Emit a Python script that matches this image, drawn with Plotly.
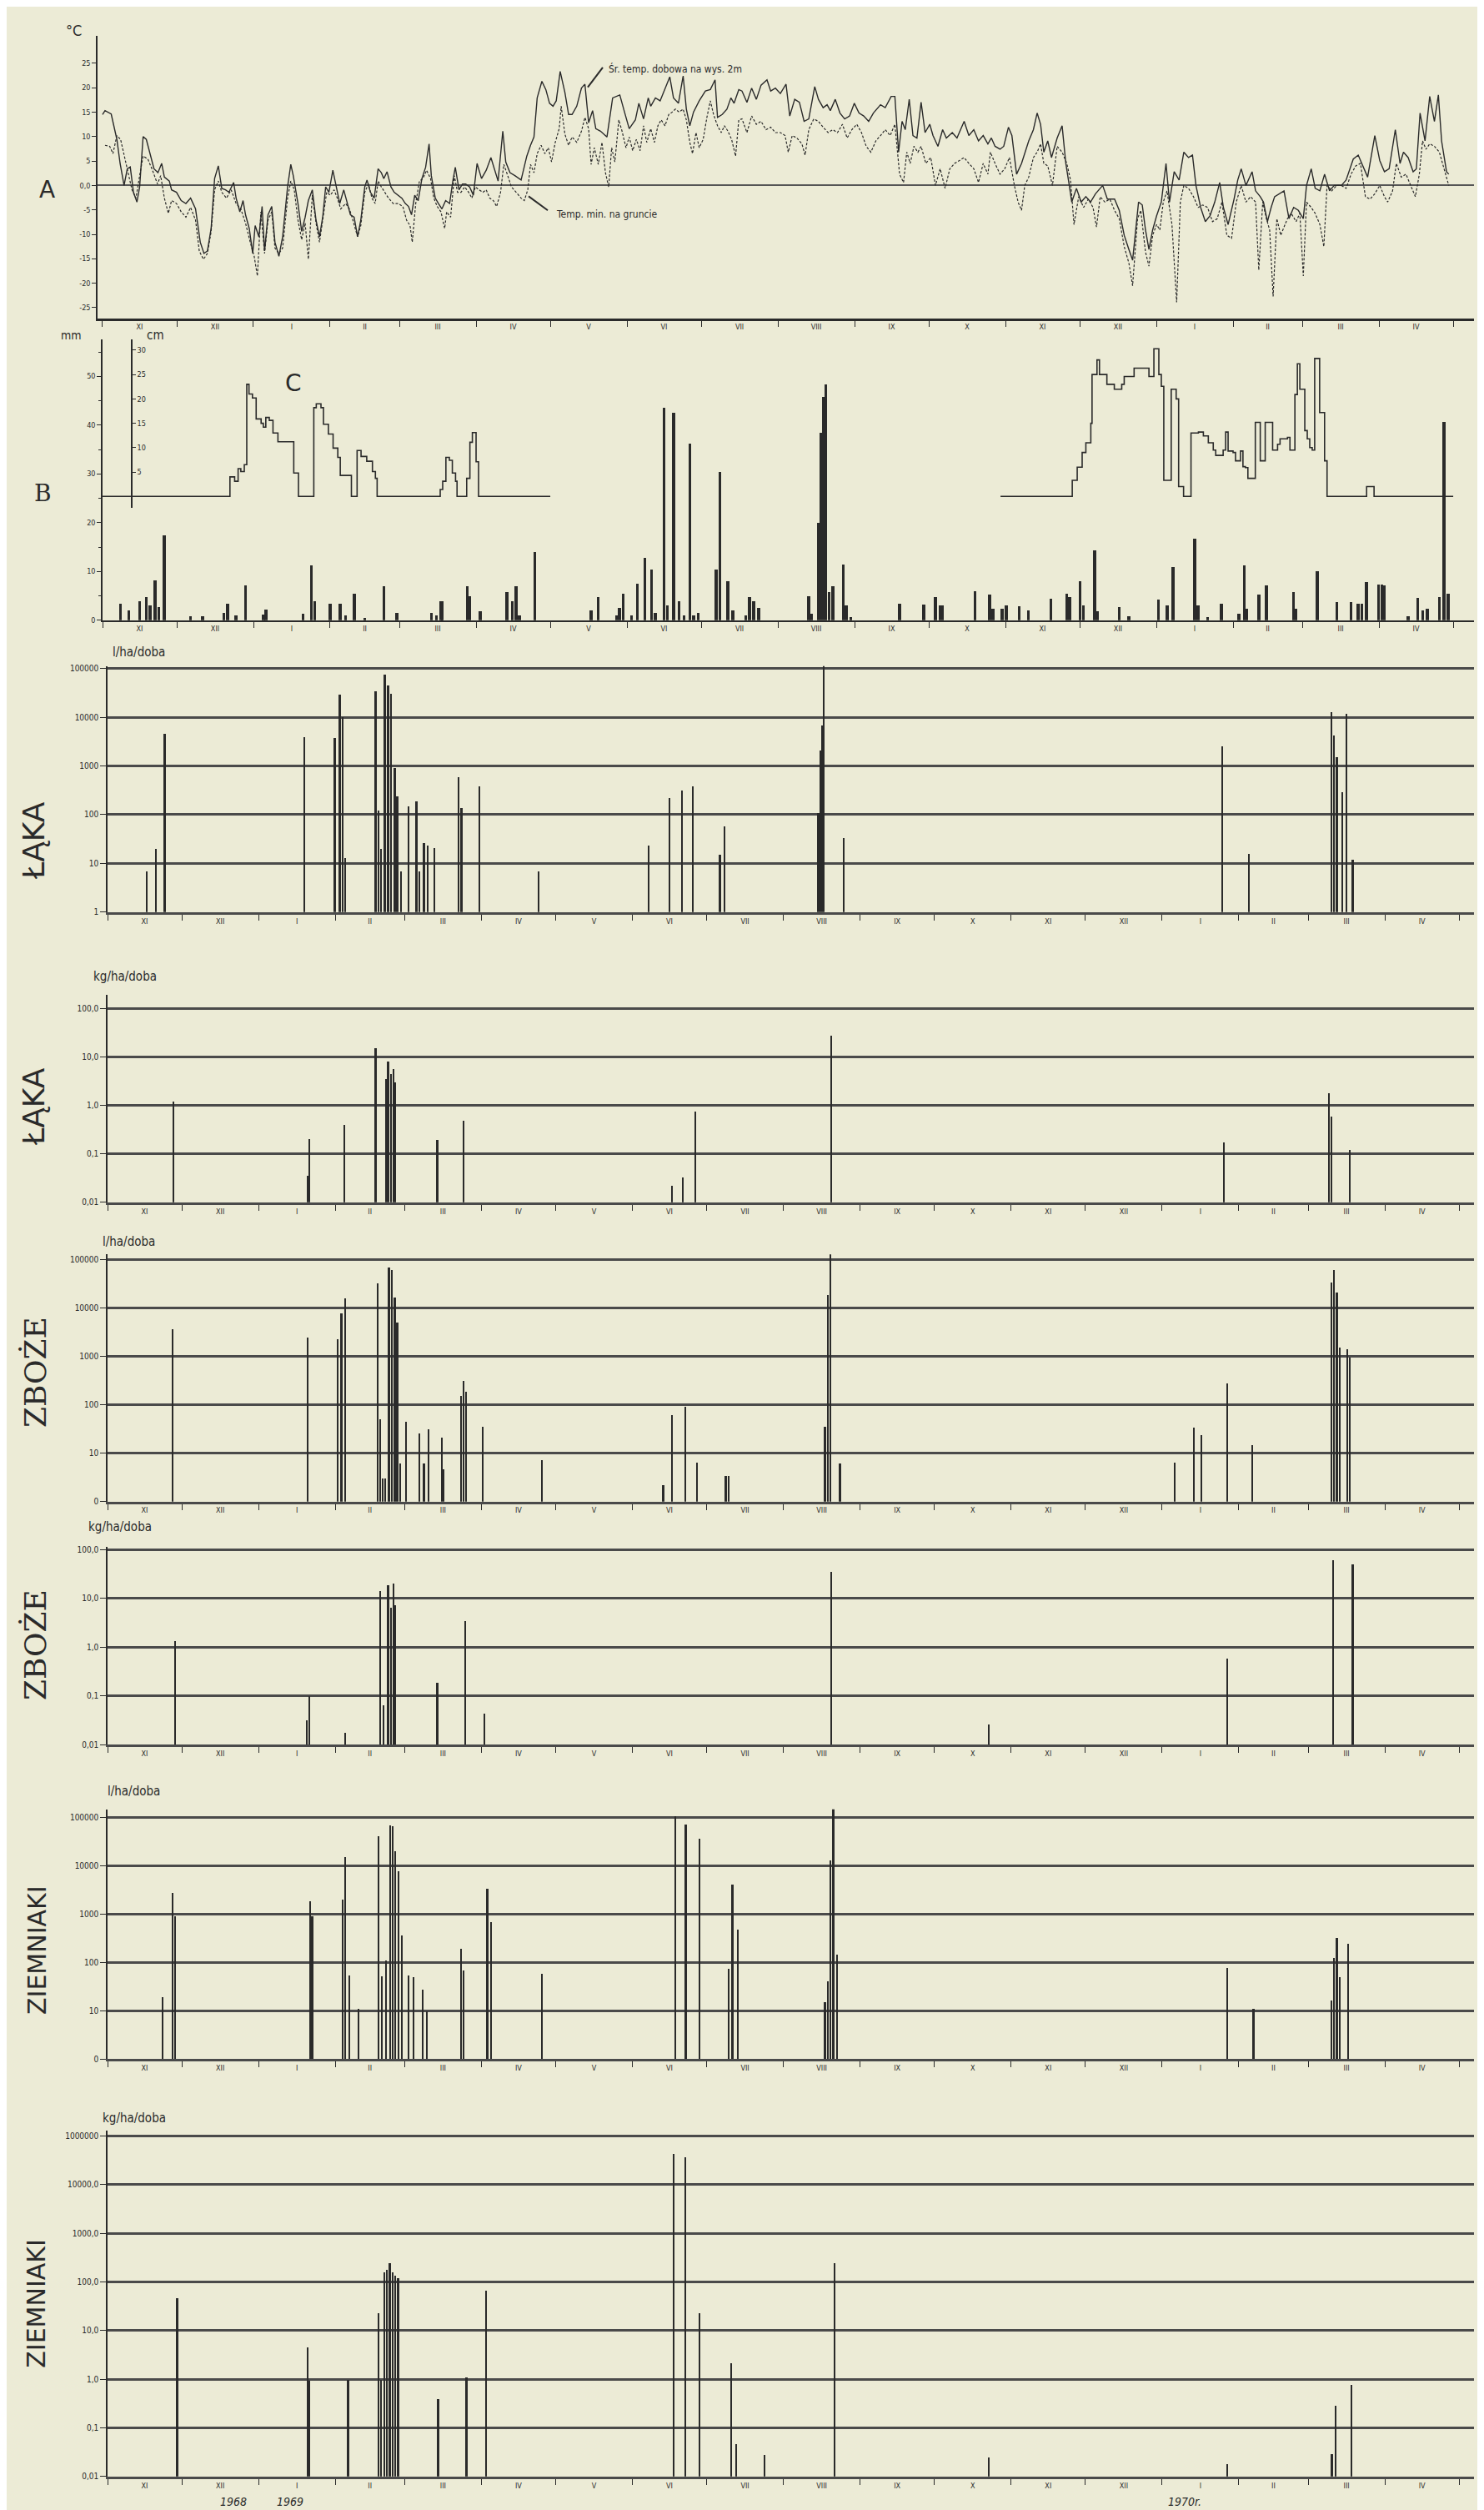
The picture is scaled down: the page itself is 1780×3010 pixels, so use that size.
import plotly.graph_objects as go

W, H = 1780, 3010
BG = '#ecebd6'
INK = '#2a2a2a'
GRID = '#4a4a4a'
FONT = 'DejaVu Sans Condensed, DejaVu Sans, sans-serif'

# ---------------- axis calendar (days since 1968-11-01) ----------------
month_start = [0, 30, 61, 92, 120, 151, 181, 212, 242, 273, 304, 334, 365, 395, 426, 457, 485, 516, 546]
month_roman = ['XI', 'XII', 'I', 'II', 'III', 'IV', 'V', 'VI', 'VII', 'VIII', 'IX', 'X',
               'XI', 'XII', 'I', 'II', 'III', 'IV']

# ---------------- A: temperature ----------------
t_mean_day = [0, 1, 3.5, 5.8, 7.1, 8.7, 10, 11.2, 12.5, 13.9, 15, 16.4, 17.7, 19.3, 20.8, 22.4, 23.9, 25, 27, 27.9,
              29.9, 31.8, 33.7, 35.6, 37.6, 39.5, 41, 42.4, 43.9, 45.3, 46.8, 48.2, 49.7, 51.1, 53, 54, 55.5, 56.8,
              57.8, 59.3, 60.7, 61.7, 63.2, 64.5, 65.5, 66.9, 68.4, 69.7, 71.3, 72.8, 74.8, 76.1, 77.1, 79, 80.5,
              81.9, 83.2, 84.8, 86.3, 87.7, 89, 90.2, 91.5, 93.1, 94.6, 95.9, 97.5, 98.7, 100.2, 101.7, 103.1,
              104.4, 106, 106.9, 108.3, 109.8, 111.4, 112.7, 113.7, 115, 116.6, 117.9, 119.5, 121, 122.4, 123.7,
              124.9, 126.2, 127.6, 129.1, 130.6, 132, 132.9, 134.5, 135.8, 137.2, 138.7, 140.3, 141.6, 142.6,
              144.1, 145.5, 146.8, 148.4, 149.9, 151.4, 153.2, 155.1, 157, 158.6, 159.9, 161.8, 163, 164.7, 166.7,
              169.2, 171.5, 173, 174.4, 175.7, 177.6, 179.2, 180.7, 182.1, 183.4, 185, 186.9, 188.4, 189.8, 191.7,
              193.6, 195, 196.5, 198.1, 199.4, 201.3, 203.9, 206.2, 209.1, 211, 212.9, 215.4, 216.8, 218.7, 220.6,
              221.6, 223.5, 225.4, 227.7, 229.3, 230.8, 232.8, 234.7, 236, 237.4, 238.9, 241.2, 243.7, 245.7,
              247.6, 248.6, 250.5, 252.4, 254, 255.3, 257.2,
              258.5, 260.5, 262.4, 264.3, 266.2, 268.6, 270.1, 272, 274, 276.3, 277.8, 279.8, 281.7, 283.6, 285.5,
              287.9, 289.4, 291.3, 292.9, 294.2, 296.2, 298.1, 300, 302, 303.9, 305.8, 307.7, 309.7, 311.6, 314.5,
              316.4, 318.8, 320.3, 321.8, 323.2, 324.5, 326.1, 327.6, 329.2, 330.9, 332.5, 334.4, 335.7, 337.7,
              339.6, 341.1, 343.5, 345.4, 348.3, 350.2, 352.2, 354.1, 356, 357.9, 359.3, 360.8, 362.8, 364.3,
              366.2, 367.6, 369.5, 371.5, 374.4, 376.3, 377.8, 379.2, 380.5, 382.1, 383.6, 385.9, 387.9, 389.4,
              390.8, 391.8, 393.7, 395.6, 397.5, 399.4, 401.4, 404.3, 406.2, 409.1, 411, 413, 414.9, 416.4, 418.8,
              420.3, 421.6, 423, 424.5, 426.1, 428, 429.9, 431.3, 433.2, 435.2, 437.1, 439, 440.6, 442, 443.9,
              445.8, 447.7, 449.6, 451.6, 453.1, 455, 457.4, 458.9, 460.3, 462.2, 464.7, 466.1, 468, 469.3, 470.9,
              472.4, 473.8, 475.7, 477.6, 479.6, 481.5, 483.4, 485.4, 486.7, 488.6, 490.2, 492.1, 494, 496, 497.9,
              500.8, 502.7, 505.6, 507.6, 509.1, 511.4, 514.3, 516.3, 518.2, 520.1, 522.6, 524.5, 525.9, 527.8,
              529.8, 531.1, 532.6, 534.6, 536.5, 538.4, 540, 541.3, 543.3, 544.2]
t_mean = [14.5, 15.3, 14.6, 9.4, 4.5, 0, 3.4, 3.8, -1.4, -3.4, -0.3, 10, 9.4, 6.5, 3.4, 2.6, 4.5, 1.7, 0.9, -0.9,
          -1.4, -3.1, -3.7, -2.6, -4.8, -11.6, -13.9, -13.4, -8.8, 1.4, 4, -0.6, -0.9, -1.4, 0.6, -2.6, -5.4, -3.1,
          -6, -8.8, -13.9, -8.2, -10.5, -4.3, -13.4, -6, -4.3, -11.6, -14.5, -10.5, -0.3, 4.3, 2, -3.7, -9.4,
          -6.5, -3.1, -0.9, -7.1, -10.5, -6.5, -0.3, -1.4, 3.1, -0.3, -3.7, -0.9, -3.1, -6, -6.5, -10.5,
          -7.1, -0.3, 1.1, -1.4, -2.6, 3.4, 2.6, 1.4, 2.8, -0.3, -1.4, -2, -2.6, -3.7, -4.3,
          -6, -2, -3.1, 1.4, 3.7, 8.5, 2, -2.6, -3.7, -4.8, -3.1, -3.7, 0.9, 3.7,
          -0.9, 0.3, 0.3, -0.3, -2, 4.5, 1.4, 3.1, 5.7, 3.1, 0.9, 11.1, 4.8, 2.6, 2,
          1.1, 6, 8.2, 9.9, 17.9, 21.3, 19.6, 16.8, 16.2, 17.3, 23.3, 19, 14.5, 14.5, 16.2,
          19.9, 20.7, 12.8, 15.3, 11.6, 11.1, 9.9, 17.9, 18.5, 15, 11.6, 13.4, 16.8, 13.6, 17.9,
          16.2, 17.9, 17.3, 20.2, 22.2, 17.9, 16.8, 22.4, 15.6, 12.2, 15, 17.3, 19.3, 19.6,
          21.6, 13.9, 14.5, 15.6, 17.9, 16.8, 19.6,
          19.3, 17, 19.9, 17.6, 20.5, 21.6, 19.3, 19.9, 18.8, 20.7, 14.2, 17.6, 17, 13.1, 13.6,
          20.2, 17.6, 15.9, 16.5, 15.3, 17.6, 14.8, 13.6, 14.2, 16.8, 14.8, 14.2, 13.1, 14.8, 16.5,
          15.9, 18.2, 18.2, 6.8, 13.1, 11.4, 17.6, 10.2, 9.7, 17, 10.8, 12.5, 10.2, 8,
          11.4, 9.7, 10.8, 9.7, 13.1, 10.2, 11.4, 9.1, 10.2, 8.5, 9.7, 8, 7.4, 8,
          11.9, 10.2, 2.3, 4.5, 9.1, 11.4, 14.8, 12.5, 6.8, 9.1, 5.7, 9.7, 12.2, 4.5,
          0, -3.4, -0.6, -3.4, -2.3, -3.4, -1.7, 0, -2.8, -2.8, -5.1, -10.2, -13.1, -15.3, -3.4,
          -4, -9.1, -13.1, -9.1, -6.2, -3.4, 4.5, -3.4, 2.8, 1.1, 6.8, 5.7, 6.2, 0, -4.5,
          -7.4, -6.2, -3.4, 0.6, -4.5, -8, -2.8, 1.1, 3.4, 0, 2.8, -1.1, -2.3, -3.4, -7.4,
          -4.5, -2.3, -1.7, -1.1, -6.8, -4.5, -5.1, -6.8, 0, 3.4, -0.6, -1.1, 2.3, -1.1, 0,
          0, 1.1, 5.4, 6.2, 4.5, 1.7, 10.2, 5.1, 2.8, 3.4, 11.4, 4.5, 6.8, 5.7,
          2.8, 3.4, 14.8, 9.1, 18.2, 13.1, 18.5, 9.1, 2.8, 2.3]

t_min_day = [1, 2.9, 4.2, 5.8, 7.3, 8.7, 10.6, 11.9, 13.5, 15, 16.4, 18.3, 20.2, 22.2, 23.5, 25, 26.6, 27.9, 29.9,
             31.8, 33.7, 35.6, 37.6, 39.1, 40.8, 42.4, 43.9, 45.3, 46.8, 48.2, 50.1, 52, 54, 55.9, 57.8, 59.7,
             61.3, 62.6, 64, 65.5, 66.9, 68.4, 69.7, 71.3, 72.8, 74.8, 76.1, 77.5, 79, 80.5, 81.9, 83.2, 84.8,
             86.3, 87.7, 89, 90.6, 92.1, 93.6, 94.9, 96.3, 98.3, 99.8, 101.2, 103.1, 104.4, 106, 107.5, 108.9,
             110.2, 111.4, 112.7, 114.1, 115.6, 117.5, 119.5, 121.4, 122.9, 124.3, 125.2, 126.6, 128.1, 129.5,
             131, 132.6, 133.9, 135.3, 136.8, 138.3, 139.1, 140.7, 142.2, 143.5, 144.9, 146.4, 148, 149.3, 150.7,
             152.2, 153.8, 155.1, 156.5, 158, 159.3, 160.9, 162.2, 163.8, 165.3, 167.2, 169.2, 170.5, 171.9, 173,
             174.4, 175.7, 177.3, 178.8, 180.2, 181.5, 183, 184.6, 185.4, 186.9, 188.4, 189.8, 191.7, 193.6, 195,
             196.5, 197.5, 198.8, 200.4, 201.9, 203.3, 204.6, 205.8, 207.1, 208.7, 210, 211.6, 212.9, 214.3,
             215.8, 217.3, 218.7, 220, 221.6, 223.1, 224.5, 225.8, 227.4, 228.9, 230.3, 231.6, 233.1, 234.7, 236,
             237.4, 238.5, 239.9, 241.2, 242.8, 244.3, 245.7, 247, 248.6, 250.1, 251.4, 252.8, 254.3, 255.9, 257.2,
             258.5, 260.5, 262.4, 264.3, 266.2, 268.2, 270.1, 272, 274, 275.9, 277.2, 278.8, 280.7, 282.7, 284,
             285.5, 287.5, 289.4, 291.3, 293.3, 295.2, 297.1, 299.1, 301, 302.9, 304.9, 306.8, 308.7, 310.6,
             312.6, 314.5, 316.4, 318.4, 320.3, 322.2, 323.8, 325.1, 326.5, 328, 329.6, 330.9, 332.8, 334.8,
             336.7, 338.6, 340.6, 342.5, 344.4, 346.4, 348.3, 350.2, 352.2, 354.1, 356, 357.9, 358.9, 360.8,
             362.8, 364.7, 366.6, 368.6, 370.1, 371.5, 372.8, 374.4, 376.3, 377.8, 379.2, 380.5, 382.1, 384,
             385.9, 387.9, 389.8, 391.3, 392.7, 394.6, 396.6, 398.5, 400.4, 401.8, 403.3, 405.2, 407.2, 409.1,
             411, 413, 414.9, 416.4, 418.4, 419.7, 421.6, 423, 424.5, 426.1, 427.4, 428.8, 430.3, 432.3, 434.2,
             435.7, 437.1, 439, 441, 442.9, 444.8, 446.7, 448.7, 450.6, 452.5, 454.5, 456.4, 458.3, 460.3, 462.2,
             464.1, 466.1, 467.4, 469, 470.5, 471.8, 473.2, 474.7, 476.3, 477.6, 479, 480.5, 482.5, 484, 485.4,
             486.7, 488.6, 490.2, 492.1, 493.7, 495, 496.9, 498.9, 500.8, 502.7, 504.7, 506.6, 508.5, 510.5,
             512.4, 514.3, 516.3, 518.2, 519.5, 521.5, 523, 525, 526.9, 528.8, 530.7, 532.3, 533.6, 535, 536.5,
             538.4, 540.4, 542.3, 544.2]
t_min = [8.2, 8, 6.5, 10.2, 9.4, 6, 2, -0.9, -2.6, 2, 6, 5.4, 3.1, 0.3, 2, -2.6, -5.7, -3.1, -3.7,
         -5.4, -6.5, -4.5, -7.1, -13.4, -15.1, -13.9, -9.4, -0.9, 0.9, -1.4, -2.6, -0.9, -3.7, -4.8, -7.7, -11.6,
         -14.5, -18.5, -5.4, -13.9, -7.1, -5.4, -12.8, -13.9, -12.8, -2.6, 0.9, -0.9, -7.1, -11.1, -7.7, -15.1, -2,
         -7.7, -11.6, -7.1, -1.4, -2, -0.9, -2.6, -4.8, -3.7, -4.8, -7.1, -10.5, -8.2, -1.4, 0.3, -2.6,
         -3.7, 0.9, -0.3, -1.4, -2.6, -3.7, -3.7, -4.3, -7.1, -8.2, -11.6, -3.7, 0.9, 1.4,
         3.1, 1.4, -2.6, -4.3, -5.4, -8.8, -5.4, -6.5, 2, -1.4, -1.4, -0.3, -1.4, -2.6, -0.3,
         -0.9, -1.4, -0.9, -2.6, -3.1, -4.3, -1.4, 4.3, 2, -0.3, -1.4, -2.6, -3.1, -0.9, 4.3,
         2.6, 6.5, 8.2, 6.5, 7.7, 4.8, 8.8, 11.6, 16.2, 10.5, 8.2, 9.9, 8.8, 11.1, 13.9,
         11.6, 4.3, 7.7, 4.3, 8.8, 2.6, -0.3, 7.7, 4.8, 13.4, 11.1, 7.7, 9.9, 7.1,
         9.4, 7.1, 12.2, 8.8, 11.6, 8.8, 12.2, 13.4, 12.2, 14.5, 15, 15.6, 15, 15.6, 13.4,
         8.8, 6.5, 10.8, 7.7, 9.4, 13.9, 17.3, 14.5, 12.2, 10.8, 12.2, 11.1, 9.4, 6, 13.4,
         13.6, 10.8, 14.2, 12.5, 13.1, 11.4, 11.9, 10.8, 10.8, 10.2, 6.8, 10.2, 9.7, 8.5, 6.2,
         11.4, 13.6, 13.1, 11.9, 10.8, 11.4, 10.8, 12.5, 9.7, 11.4, 12.5, 10.8, 8, 6.8,
         9.1, 10.2, 11.4, 10.2, 12.5, 2.3, 0.6, 6.8, 4.5, 8, 6.8, 8, 4.5, 5.7,
         0, 3.4, -0.6, 3.4, 4.5, 5.1, 5.7, 4.5, 3.4, 0.6, 4.5, 2.3, 6.8, 4.5,
         2.3, 3.4, 5.7, 0, -3.4, -5.1, 0, 1.7, 5.7, 6.8, 8.5, 4.5, 4, 0,
         8, 6.8, 4.5, 1.1, -8, -2.3, -4.5, -2.8, -4.5, -8.5, -2.3, -3.4, -2.8, -5.1,
         -6.8, -12.5, -15.9, -20.5, -6.8, -5.1, -13.6, -16.5, -10.2, -8, -9.1, -3.4, -1.1, -8, -23.9,
         -3.4, 0, -0.6, -2.3, -4.5, -4, -4.5, -7.4, -6.8, -3.4, -10.2, -10.8, -3.4, 0, -3.4,
         -2.3, -3.4, -17.3, -3.4, -6.8, -9.1, -22.7, -6.8, -10.2, -8.5, -6.8, -5.7, -7.4, -5.7, -18.5,
         -3.4, -4.5, -5.7, -8, -12.5, 0, -1.1, 0, 0, -0.6, 2.3, 4, 4.5, -2.3,
         -2.8, -1.7, 0, -2.3, -3.4, -1.1, 4.5, 1.7, 2.3, 0, -2.3, 2.3, 9.1, 7.4, 8.5,
         8, 6.8, 3.4, 0]

# ---------------- B: precipitation (mm) and C: snow cover (cm) ----------------
precip_day = [7.3, 10.6, 15, 17.7, 19.3, 21.2, 22.7, 25,
              35.6, 40.5, 49, 50.5, 54, 57.8, 65, 66,
              81, 84.4, 85.7, 92, 96, 98.3, 101.7,
              106, 113.7, 119,
              133, 135, 136.8, 137.4, 147.4, 148.4, 152.6,
              163.4, 165.7, 167.2, 168.6, 174.8,
              197.5, 200.4, 207.7, 209, 210.4, 213.9, 216.2, 219.3, 222, 223.5, 227, 228.3, 230.8, 233, 235,
              237.4, 239, 240.8, 248, 249.5, 252.8, 254.7, 260, 261.6,
              263.3, 265.3, 285.5, 286.5, 289.4, 290.4, 291.3, 292.3, 293.7, 295.2, 299.4, 300.6, 302.5,
              322.2, 331.9, 336.7, 338.6, 339.6, 352.7, 358.5, 359.9, 363.7, 365.3,
              370.5, 374.3, 383.4, 389.8, 390.9, 395.2, 396.5, 401, 402.3, 411, 414.9, 426.9, 430.3, 432.8,
              441.5, 442.9, 446.7, 452.2, 459.3, 461.6, 462.6, 467.4, 470.5, 481.5, 482.5, 491.1,
              498.9, 504.7, 507.6, 509.1, 511, 515.8, 517.2, 518.2, 527.8, 531.7, 533.6, 535.5, 540.4, 542.3, 543.9]
precip_mm = [3.5, 2, 4, 4.8, 3, 8.2, 2.7, 17.5,
             0.8, 0.8, 1.5, 3.5, 1, 7.2, 1.2, 2.2,
             1.3, 11.2, 4, 3.5, 3.5, 1, 5.5,
             0.5, 7, 1.5,
             1.5, 1, 4, 4, 7, 5, 1.8,
             5.8, 4, 7, 1, 14,
             2, 4.8, 1, 2.5, 5.4, 1, 7.5, 12.8, 10.4, 1.5, 43.5, 3, 42.5, 4, 1,
             36.2, 1, 1.5, 10.5, 30.5, 8, 2, 1, 4.8,
             4, 2.5, 5, 1.3, 20, 38.4, 45.8, 48.4, 5.8, 7, 11.5, 3, 0.7,
             3.5, 3.2, 4.7, 3, 3, 6, 5.3, 2.4, 2.4, 3,
             2.9, 2.1, 4.4, 5.5, 4.7, 8.1, 3, 14.4, 1.8, 2.7, 0.8, 4.2, 3, 11,
             16.7, 3, 0.7, 3.5, 1.3, 11.3, 2.4, 5.3, 7.1, 5.8, 2.4, 10.1,
             3.8, 3.8, 3.5, 3.5, 7.8, 7.3, 7.3, 7.1, 0.8, 4.6, 2.1, 2.4, 4.7, 40.7, 5.5]

snow1_day = [0, 51.5, 53.4, 54.8, 55.9, 57.3, 58.3, 59.2, 60.6, 62.1, 64.1, 65, 66, 67.4, 68.9, 70.9, 77.3, 79.2,
             85.4, 86.4, 88.3, 89.3, 91.3, 93.2, 95.1, 96.1, 100.6, 102.9, 104.5, 106.8, 109.1, 110.3, 111,
             136.5, 137.5, 138.8, 140.2, 141.4, 142.7, 143.3, 147.2, 148.5, 149.5, 151, 152, 181]
snow1_cm = [0, 4, 3.1, 5.7, 5.1, 6.5, 23, 21, 20.2, 15.9, 15, 14.2, 16.2, 15.6, 13, 11.2, 4.8, 0,
            18.2, 19, 18.2, 14.8, 12.8, 9.9, 8, 4.3, 0, 9.4, 8.2, 7.2, 5.1, 3.7, 0,
            1.4, 3.1, 8, 7.4, 4.8, 3.1, 0, 3.7, 11.1, 13.1, 7.1, 0, 0]
snow2_day = [363, 392, 394, 396, 397.5, 399.5, 400, 402, 403, 406, 409, 412, 413, 417, 423, 425, 427, 428, 429,
             432, 434, 435, 437, 440, 443, 445, 447, 449, 450, 453, 454, 455, 457, 458, 460, 461, 462, 463, 466,
             468, 470, 473, 475, 476, 479, 480, 482, 483, 484, 486, 487, 488, 489, 490, 492, 494, 495, 511, 514,
             546]
snow2_cm = [0, 3.3, 6, 9, 11, 15, 25, 28, 25, 23, 22, 23, 24.6, 26.3, 24.6, 30.3, 25, 22.6, 3.3,
            22, 20, 2, 0, 13, 13.2, 12.4, 11, 9.5, 8.4, 9.5, 13.2, 9.3, 9, 7.3, 9.3, 6.1, 5.9, 3.7, 15.2,
            7.3, 15.2, 9.5, 10.7, 11.8, 12.1, 9.5, 20.9, 27.2, 22, 13.5, 11.8, 10, 9.5, 28.3, 17.2, 7.3, 0, 2, 0,
            0]

# ---------------- log panels ----------------
laka_l_day = [15.8, 19.6, 23.1, 79.6, 91.8, 93.8, 94.9, 96, 108.3, 109.4, 110.5, 112, 113.3, 114.5, 116, 117,
              118.5, 121.7, 124.8, 125.9, 127.8, 129.3, 132, 141.9, 143, 150.3, 174, 218.7, 227.1, 232.1, 236.3,
              247.4, 249.3, 287.1, 287.9, 288.6, 289.4, 297.4, 450.3, 461, 494.3, 495.4, 496.6, 498.8, 500.4, 503]
laka_l = [7, 20, 4600, 4000, 3800, 29000, 10000, 13, 35000, 125, 20, 77000, 46000, 30000, 900, 240,
          7, 150, 190, 7, 26, 23, 21, 600, 140, 380, 7, 23, 225, 320, 390,
          15, 57, 110, 2100, 6800, 235000, 33, 2600, 16, 13000, 4300, 1500, 290, 12000, 12]

laka_kg_day = [26.6, 80.8, 81.6, 95.7, 108.3, 112.5, 113.3, 114.5, 115.5, 116.3, 133.2, 143.9, 227.9, 232.5,
               237.4, 292.4, 451, 493.4, 494.3, 501.9]
laka_kg = [1.2, 0.035, 0.2, 0.4, 15, 3.5, 8, 4.5, 5.5, 3, 0.19, 0.49, 0.022, 0.033,
           0.74, 27, 0.17, 1.8, 0.59, 0.12]

zboze_l_day = [26.2, 80.8, 93, 94.5, 96, 109, 110.2, 111.2, 112.2, 113.7, 114.9, 116, 117, 118.3, 120.5, 125.9,
               127.8, 129.7, 135, 135.8, 142.7, 143.9, 144.7, 151.5, 175.5, 224.5, 227.9, 233.3, 238.2, 249.7,
               250.8, 289.8, 291, 292.1, 295.9, 431.2, 438.8, 441.9, 452.2, 462.5, 494.3, 495.4, 496.6, 497.7,
               500.8, 501.9]
zboze_l = [3500, 2400, 2250, 7700, 15500, 31000, 49, 3, 3, 67000, 59000, 16000, 4900, 6, 44, 25,
           6, 31, 21, 4.5, 150, 300, 180, 34, 7, 2.2, 60, 90, 6.2, 3.3,
           3.3, 35, 18000, 158000, 6, 6.3, 33, 23, 270, 14.5, 32500, 59000, 20500, 1500,
           1350, 930]

zboze_kg_day = [27.3, 80.5, 81.6, 96.1, 110.2, 111.4, 113.3, 114.4, 115.5, 116.3, 133.2, 144.6, 152.2, 292.4,
                356, 452.2, 495, 503]
zboze_kg = [1.3, 0.031, 0.097, 0.017, 13.7, 0.063, 18, 6.4, 19.5, 7.1, 0.18, 3.4, 0.043, 34,
            0.026, 0.57, 59, 50]

ziem_l_day = [22.3, 26.2, 27.3, 81.9, 82.7, 94.9, 96.1, 97.6, 101.4, 109.4, 110.9, 112.4, 114.1, 115.2, 116.3,
              117.5, 119, 121.7, 123.6, 127.4, 128.9, 142.7, 143.9, 153.4, 154.9, 175.5, 229.4, 233.6, 239,
              250.8, 252.4, 254.7, 289.8, 291, 292.1, 293.2, 294.7, 452.2, 462.9, 494.3, 495.4, 496.6, 497.7,
              501.1]
ziem_l = [19.5, 2800, 920, 1900, 920, 2000, 15600, 54, 11, 41000, 52, 110, 70000, 67000, 20500,
          7800, 360, 54, 50, 28, 10, 195, 70, 3350, 700, 59, 106000, 71000, 37000,
          75, 4200, 475, 15, 41, 13000, 210000, 145, 77, 11, 16.4, 126, 320, 50,
          245]

ziem_kg_day = [28.1, 80.8, 81.6, 97.2, 109.4, 110.5, 111.8, 112.9, 114, 115.2, 116.3, 117.4, 133.5, 145, 153,
               228.7, 233.3, 239, 252, 253.9, 265.3, 293.6, 356, 452.2, 494.6, 496.1, 502.6]
ziem_kg = [48, 4.6, 0.95, 1.0, 23, 1, 160, 180, 250, 160, 137, 120, 0.4, 1.1, 67,
           44500, 37000, 23.4, 2.2, 0.047, 0.028, 250, 0.025, 0.018, 0.029, 0.29, 0.77]

# tick labels
temp_ticks = [-25, -20, -15, -10, -5, 0, 5, 10, 15, 20, 25]
temp_ticktext = ['-25', '-20', '-15', '-10', '-5', '0,0', '5', '10', '15', '20', '25']
mm_ticks = [0, 10, 20, 30, 40, 50]
cm_ticks = [5, 10, 15, 20, 25, 30]
l_ticks = [1, 10, 100, 1000, 10000, 100000]
laka_l_text = ['1', '10', '100', '1000', '10000', '100000']
other_l_text = ['0', '10', '100', '1000', '10000', '100000']
kg_ticks = [0.01, 0.1, 1, 10, 100]
kg_text = ['0,01', '0,1', '1,0', '10,0', '100,0']
ziem_kg_ticks = [0.01, 0.1, 1, 10, 100, 1000, 10000, 100000]
ziem_kg_text = ['0,01', '0,1', '1,0', '10,0', '100,0', '1000,0', '10000,0', '1000000']

# ---------------- helpers ----------------
def fy(p):
    return 1 - p / H


def fx(p):
    return p / W


month_mid = [(a + b) / 2 for a, b in zip(month_start[:-1], month_start[1:])]
tickfont = dict(family=FONT, size=9, color=INK)


def month_axis(x0, x1, rng, anchor, lw, lc):
    return dict(domain=[fx(x0), fx(x1)], range=rng, anchor=anchor, showgrid=False, zeroline=False,
                showline=True, linewidth=lw, linecolor=lc, tickmode='array', tickvals=month_mid,
                ticktext=month_roman, ticks='', tickfont=tickfont,
                minor=dict(tickmode='array', tickvals=month_start, ticks='outside', ticklen=7,
                           tickcolor=INK, tickwidth=1.2, showgrid=False),
                fixedrange=True)


def log_axis(bottom, top, rng, anchor, tv, tt):
    return dict(domain=[fy(bottom), fy(top)], type='log', range=rng, anchor=anchor, showgrid=True,
                gridcolor=GRID, gridwidth=3, zeroline=False, showline=True, linecolor=INK, linewidth=1.5,
                ticks='outside', ticklen=7, tickcolor=INK, tickmode='array', tickvals=tv, ticktext=tt,
                tickfont=dict(family=FONT, size=10, color=INK), fixedrange=True)


fig = go.Figure()

# A
fig.add_trace(go.Scatter(x=t_mean_day, y=t_mean, mode='lines', line=dict(color=INK, width=1.4),
                         xaxis='x', yaxis='y'))
fig.add_trace(go.Scatter(x=t_min_day, y=t_min, mode='lines', line=dict(color=INK, width=1.2, dash='3px,2px'),
                         xaxis='x', yaxis='y'))
# B + C
fig.add_trace(go.Bar(x=precip_day, y=precip_mm, width=1.2, marker=dict(color=INK, line=dict(width=0)),
                     xaxis='x2', yaxis='y2'))
for d, v in ((snow1_day, snow1_cm), (snow2_day, snow2_cm)):
    fig.add_trace(go.Scatter(x=d, y=v, mode='lines', line=dict(color=INK, width=1.6, shape='hv'),
                             xaxis='x2', yaxis='y3'))

# log panels
panels = [
    (laka_l_day, laka_l, 4),
    (laka_kg_day, laka_kg, 5),
    (zboze_l_day, zboze_l, 6),
    (zboze_kg_day, zboze_kg, 7),
    (ziem_l_day, ziem_l, 8),
    (ziem_kg_day, ziem_kg, 9),
]
for d, v, k in panels:
    fig.add_trace(go.Bar(x=d, y=v, width=0.75, marker=dict(color=INK, line=dict(width=0)),
                         cliponaxis=False, xaxis=f'x{k}', yaxis=f'y{k}'))

lay = dict(
    width=W, height=H, margin=dict(l=0, r=0, t=0, b=0), paper_bgcolor=BG, plot_bgcolor='rgba(0,0,0,0)',
    showlegend=False, barmode='overlay', bargap=0,
)

# A axes
lay['xaxis'] = month_axis(109, 1760, [-2.02, 554.4], 'y', 2.5, INK)
lay['yaxis'] = dict(domain=[fy(372), fy(32)], range=[-27.2, 30.6], anchor='x', showgrid=False,
                    zeroline=True, zerolinecolor='#555555', zerolinewidth=1.6, showline=True, linecolor=INK,
                    linewidth=1.5, ticks='outside', ticklen=5, tickcolor=INK, tickmode='array',
                    tickvals=temp_ticks, ticktext=temp_ticktext, tickfont=tickfont, fixedrange=True)
# B axes
lay['xaxis2'] = month_axis(115, 1760, [0, 554.4], 'y2', 2, INK)
lay['yaxis2'] = dict(domain=[fy(735), fy(397)], range=[0, 57.6], anchor='x2', showgrid=False, zeroline=False,
                     showline=True, linecolor=INK, linewidth=1.5, ticks='outside', ticklen=5, tickcolor=INK,
                     tickmode='array', tickvals=mm_ticks, tickfont=tickfont,
                     minor=dict(dtick=5, ticks='outside', ticklen=3, tickcolor=INK, showgrid=False),
                     fixedrange=True)
lay['yaxis3'] = dict(domain=[fy(600), fy(397)], range=[-2.39, 32.25], anchor='free', position=fx(150),
                     side='right', showgrid=False, zeroline=False, showline=True, linecolor=INK, linewidth=1.5,
                     ticks='outside', ticklen=4, tickcolor=INK, tickmode='array', tickvals=cm_ticks,
                     tickfont=tickfont, fixedrange=True)

log_specs = [
    (4, 1086, 790.1, [0, 5.05], l_ticks, laka_l_text),
    (5, 1435, 1185.5, [-2, 2.28], kg_ticks, kg_text),
    (6, 1795, 1497.7, [0, 5.1], l_ticks, other_l_text),
    (7, 2087.3, 1849.8, [-2, 2.05], kg_ticks, kg_text),
    (8, 2465.7, 2165.3, [0, 5.17], l_ticks, other_l_text),
    (9, 2967.7, 2551.2, [-2, 5.12], ziem_kg_ticks, ziem_kg_text),
]
for k, b, t, rng, tv, tt in log_specs:
    lay[f'xaxis{k}'] = month_axis(121, 1760, [0, 552], f'y{k}', 3, GRID)
    lay[f'yaxis{k}'] = log_axis(b, t, rng, f'x{k}', tv, tt)

ann = []


def text(s, x, y, size, anchor='center', angle=0, family=FONT, yanchor='middle'):
    ann.append(dict(text=s, x=fx(x), y=fy(y), xref='paper', yref='paper', showarrow=False,
                    xanchor=anchor, yanchor=yanchor, textangle=angle,
                    font=dict(family=family, size=size, color=INK)))


text('°C', 80, 26, 18)
text('A', 48, 217, 28, family='DejaVu Sans, sans-serif')
text('B', 43, 582, 28, family='DejaVu Serif, serif')
text('C', 344, 450, 28, family='DejaVu Sans, sans-serif')
text('mm', 77, 392, 14)
text('cm', 178, 392, 15)
text('Śr. temp. dobowa na wys. 2m', 720, 72, 12, anchor='left')
text('Temp. min. na gruncie', 657, 247, 12, anchor='left')

text('l/ha/doba', 125, 773, 15, anchor='left')
text('kg/ha/doba', 102, 1163, 15, anchor='left')
text('l/ha/doba', 113, 1482, 15, anchor='left')
text('kg/ha/doba', 96, 1825, 15, anchor='left')
text('l/ha/doba', 119, 2143, 15, anchor='left')
text('kg/ha/doba', 113, 2537, 15, anchor='left')

text('ŁĄKA', 32, 1000, 36, angle=-90, family='DejaVu Sans, sans-serif')
text('ŁĄKA', 32, 1320, 36, angle=-90, family='DejaVu Sans, sans-serif')
text('ZBOŻE', 34, 1640, 36, angle=-90, family='DejaVu Serif, serif')
text('ZBOŻE', 34, 1968, 36, angle=-90, family='DejaVu Serif, serif')
text('ZIEMNIAKI', 36, 2335, 30, angle=-90, family='DejaVu Sans, sans-serif')
text('ZIEMNIAKI', 36, 2760, 30, angle=-90, family='DejaVu Sans, sans-serif')

text('<i>1968</i>', 272, 2998, 14)
text('<i>1969</i>', 340, 2998, 14)
text('<i>1970r.</i>', 1413, 2998, 14)

lay['annotations'] = ann
lay['shapes'] = [
    dict(type='line', xref='paper', yref='paper', x0=fx(715), y0=fy(70), x1=fx(697), y1=fy(94),
         line=dict(color=INK, width=2)),
    dict(type='line', xref='paper', yref='paper', x0=fx(649), y0=fy(242), x1=fx(626), y1=fy(225),
         line=dict(color=INK, width=2)),
]

fig.update_layout(**lay)
fig.write_html('out.html')
